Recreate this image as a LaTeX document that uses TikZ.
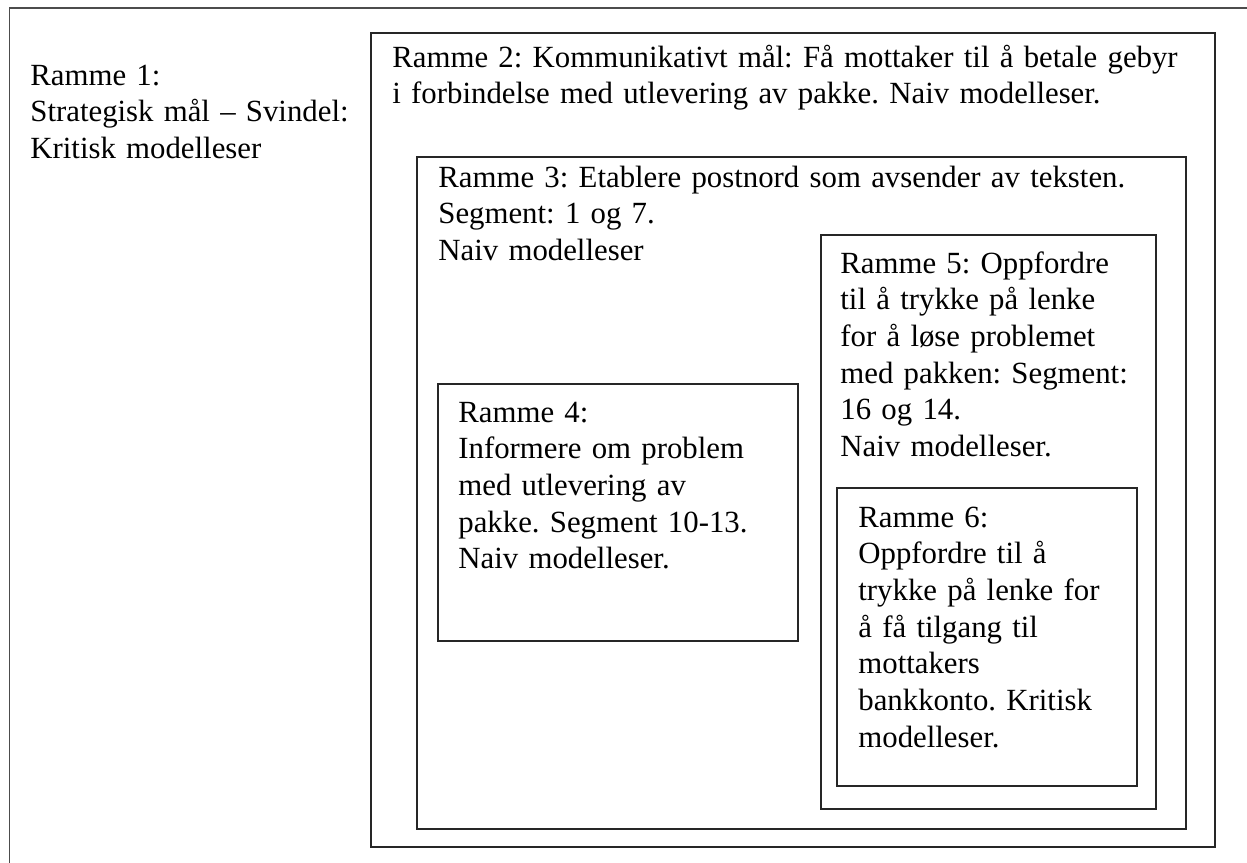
\documentclass[tikz,border=0pt]{standalone}
\usepackage{fontspec}
\setmainfont{Liberation Serif}
\frenchspacing
\begin{document}
\begin{tikzpicture}[x=0.5pt, y=-0.5pt,
  framebox/.style={draw=black!85, line width=0.7pt},
  label/.style={anchor=base west, inner sep=0pt, align=left, text width=420pt,
    font=\fontsize{15.4pt}{18.35pt}\selectfont\frenchspacing}]
  \useasboundingbox (0,0) rectangle (1247,862);
  % outermost frame (runs past the right and bottom edges)
  \draw[framebox, draw=black!70] (1260,8) -- (9.5,8) -- (9.5,875);
  % nested frames
  \draw[framebox] (371,33) rectangle (1215,847);
  \draw[framebox] (417,157) rectangle (1186,829);
  \draw[framebox] (438,384) rectangle (798,641);
  \draw[framebox] (821,235) rectangle (1156,809);
  \draw[framebox] (837,488) rectangle (1137,786);
  % frame texts
  \node[label] (r1) at (30,85) {Ramme 1:\\Strategisk mål – Svindel:\\Kritisk modelleser};
  \node[label] (r2) at (392,67) {Ramme 2: Kommunikativt mål: Få mottaker til å betale gebyr\\i forbindelse med utlevering av pakke. Naiv modelleser.};
  \node[label] (r3) at (438,187) {Ramme 3: Etablere postnord som avsender av teksten.\\Segment: 1 og 7.\\Naiv modelleser};
  \node[label] (r4) at (458,422) {Ramme 4:\\Informere om problem\\med utlevering av\\pakke. Segment 10-13.\\Naiv modelleser.};
  \node[label] (r5) at (840,273) {Ramme 5: Oppfordre\\til å trykke på lenke\\for å løse problemet\\med pakken: Segment:\\16 og 14.\\Naiv modelleser.};
  \node[label] (r6) at (858,527) {Ramme 6:\\Oppfordre til å\\trykke på lenke for\\å få tilgang til\\mottakers\\bankkonto. Kritisk\\modelleser.};
\end{tikzpicture}
\end{document}
